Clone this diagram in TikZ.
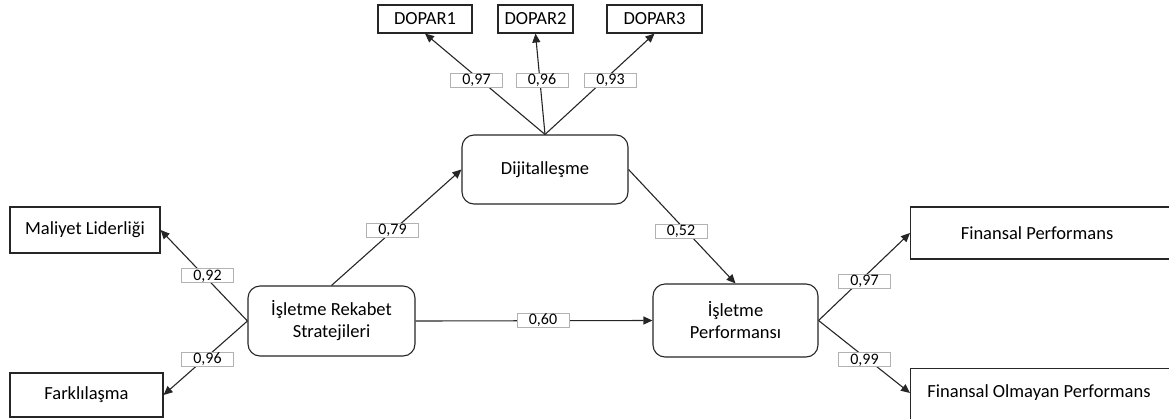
\documentclass[tikz,border=0pt]{standalone}
\usepackage{fontspec}
\setmainfont{Carlito}
\usetikzlibrary{arrows.meta}
\begin{document}
\begin{tikzpicture}[x=1pt,y=-1pt,
  box/.style={draw=black!85,line width=1.1pt,fill=white,inner sep=0pt,font=\fontsize{18.5}{22}\selectfont,align=center},
  rbox/.style={box,rounded corners=12pt},
  val/.style={draw=black!30,line width=0.8pt,fill=white,inner sep=0pt,minimum width=52pt,minimum height=14pt,text height=11pt,text depth=1.5pt,font=\fontsize{16}{16}\selectfont},
  arr/.style={draw=black!85,line width=1.1pt,-{Triangle[length=9pt,width=8pt]}}]
\useasboundingbox (0,0) rectangle (1169,418);
% boxes
\node[box,minimum width=94pt,minimum height=28pt] (d1) at (425,19) {DOPAR1};
\node[box,minimum width=75pt,minimum height=28pt] (d2) at (535.5,19) {DOPAR2};
\node[box,minimum width=95pt,minimum height=28pt] (d3) at (654.5,19) {DOPAR3};
\node[rbox,minimum width=166pt,minimum height=69pt] (dij) at (545,169.5) {Dijitalleşme};
\node[box,minimum width=150pt,minimum height=46pt] (mal) at (85,230) {Maliyet Liderliği};
\node[box,minimum width=153pt,minimum height=44pt] (far) at (86.5,395) {Farklılaşma};
\node[rbox,minimum width=167pt,minimum height=70pt] (rek) at (331.5,321) {İşletme Rekabet\\Stratejileri};
\node[rbox,minimum width=165pt,minimum height=73pt] (perf) at (735.5,320.5) {İşletme\\Performansı};
\node[box,minimum width=280pt,minimum height=52pt,anchor=west] (finp) at (910,233) {};
\node[font=\fontsize{18.5}{22}\selectfont,inner sep=0pt] (finpt) at (1037,233) {Finansal Performans};
\node[box,minimum width=280pt,minimum height=54pt,anchor=north west] (finol) at (910,368) {};
\node[font=\fontsize{18.5}{22}\selectfont,inner sep=0pt] (finolt) at (1039,393) {Finansal Olmayan Performans};
\coordinate (finolw) at (910,393);
% connectors
\draw[arr] (dij.north) -- (d1.south);
\draw[arr] (dij.north) -- (d2.south);
\draw[arr] (dij.north) -- (d3.south);
\draw[arr] (rek.west) -- (mal.east);
\draw[arr] (rek.west) -- (far.east);
\draw[arr] (rek.north) -- (dij.west);
\draw[arr] (rek.east) -- (perf.west);
\draw[arr] (dij.east) -- (perf.north);
\draw[arr] (perf.east) -- (finp.west);
\draw[arr] (perf.east) -- (finolw);
% values
\node[val] (v1) at (476.5,80) {0,97};
\node[val] (v2) at (542,80) {0,96};
\node[val] (v3) at (610.5,80) {0,93};
\node[val] (v4) at (207.5,275.5) {0,92};
\node[val] (v5) at (207.5,359) {0,96};
\node[val] (v6) at (392.5,230) {0,79};
\node[val] (v7) at (543,320) {0,60};
\node[val] (v8) at (681,231) {0,52};
\node[val] (v9) at (864.5,281) {0,97};
\node[val] (v10) at (864.5,359.5) {0,99};
\end{tikzpicture}
\end{document}
